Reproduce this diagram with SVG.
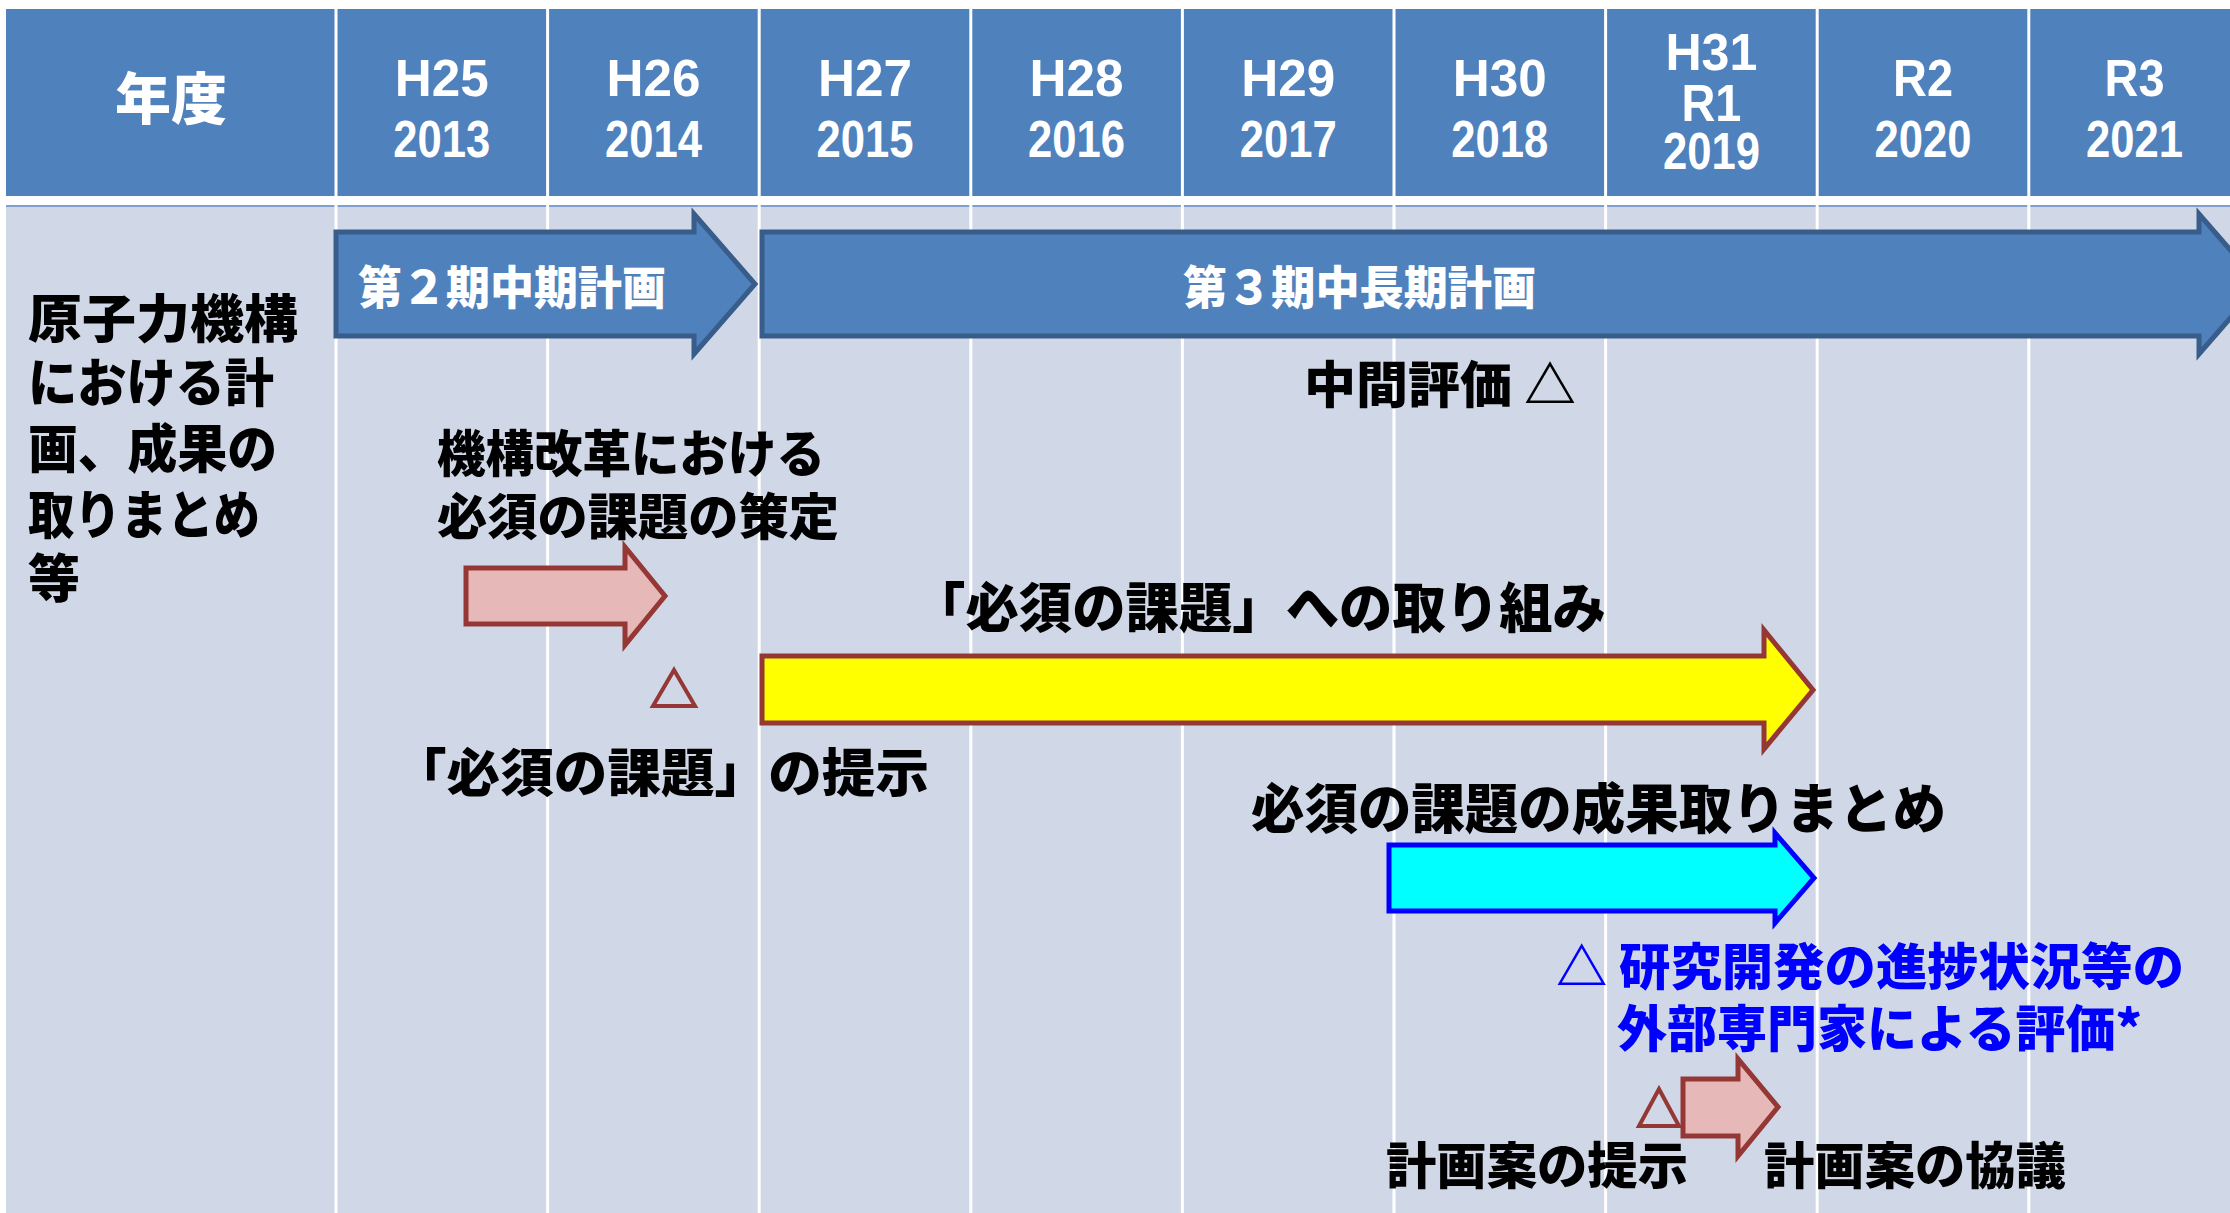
<svg xmlns="http://www.w3.org/2000/svg" width="2230" height="1213" viewBox="0 0 2230 1213">
<style>
.hdr{fill:#4F81BD}
.yr{font-family:"Liberation Sans",Arial,sans-serif;font-weight:700;font-size:52px;fill:#FFFFFF;text-anchor:middle}
.jp{font-family:"Noto Sans CJK JP","Noto Sans CJK SC",sans-serif;font-weight:900}
.blk{fill:#000000}
.wht{fill:#FFFFFF}
.blu{fill:#0000FF}
.div{stroke:#FFFFFF;stroke-width:3}
.barB{fill:#4F81BD;stroke:#385D8A;stroke-width:5;stroke-linejoin:miter}
.barP{fill:#E6B9B8;stroke:#953735;stroke-width:5}
.barY{fill:#FFFF00;stroke:#953735;stroke-width:5}
.barC{fill:#00FFFF;stroke:#0000FF;stroke-width:5}
.tri{fill:none;stroke:#953735;stroke-width:4}
</style>
<rect x="0" y="0" width="2230" height="1213" fill="#FFFFFF"/>
<g id="table">
  <rect class="hdr" x="6" y="9" width="2224" height="187"/>
  <rect x="6" y="205" width="2224" height="1008" fill="#D0D8E8"/>
  <line x1="6" y1="206" x2="2230" y2="206" stroke="#7F9FCF" stroke-width="2"/>
  <g>
    <line class="div" x1="336" y1="9" x2="336" y2="1213"/>
    <line class="div" x1="547.6" y1="9" x2="547.6" y2="1213"/>
    <line class="div" x1="759.2" y1="9" x2="759.2" y2="1213"/>
    <line class="div" x1="970.8" y1="9" x2="970.8" y2="1213"/>
    <line class="div" x1="1182.4" y1="9" x2="1182.4" y2="1213"/>
    <line class="div" x1="1394" y1="9" x2="1394" y2="1213"/>
    <line class="div" x1="1605.6" y1="9" x2="1605.6" y2="1213"/>
    <line class="div" x1="1817.2" y1="9" x2="1817.2" y2="1213"/>
    <line class="div" x1="2028.8" y1="9" x2="2028.8" y2="1213"/>
  </g>
</g>
<g id="header">
  <text class="jp wht" x="171" y="119" font-size="56" font-weight="700" text-anchor="middle">年度</text>
  <text class="yr" x="441.8" y="96" textLength="94" lengthAdjust="spacingAndGlyphs">H25</text>
  <text class="yr" x="441.8" y="157" textLength="97" lengthAdjust="spacingAndGlyphs">2013</text>
  <text class="yr" x="653.4" y="96" textLength="94" lengthAdjust="spacingAndGlyphs">H26</text>
  <text class="yr" x="653.4" y="157" textLength="97" lengthAdjust="spacingAndGlyphs">2014</text>
  <text class="yr" x="865" y="96" textLength="94" lengthAdjust="spacingAndGlyphs">H27</text>
  <text class="yr" x="865" y="157" textLength="97" lengthAdjust="spacingAndGlyphs">2015</text>
  <text class="yr" x="1076.6" y="96" textLength="94" lengthAdjust="spacingAndGlyphs">H28</text>
  <text class="yr" x="1076.6" y="157" textLength="97" lengthAdjust="spacingAndGlyphs">2016</text>
  <text class="yr" x="1288.2" y="96" textLength="94" lengthAdjust="spacingAndGlyphs">H29</text>
  <text class="yr" x="1288.2" y="157" textLength="97" lengthAdjust="spacingAndGlyphs">2017</text>
  <text class="yr" x="1499.8" y="96" textLength="94" lengthAdjust="spacingAndGlyphs">H30</text>
  <text class="yr" x="1499.8" y="157" textLength="97" lengthAdjust="spacingAndGlyphs">2018</text>
  <text class="yr" x="1711.4" y="70" textLength="92" lengthAdjust="spacingAndGlyphs">H31</text>
  <text class="yr" x="1711.4" y="121" textLength="60" lengthAdjust="spacingAndGlyphs">R1</text>
  <text class="yr" x="1711.4" y="169" textLength="97" lengthAdjust="spacingAndGlyphs">2019</text>
  <text class="yr" x="1923" y="96" textLength="60" lengthAdjust="spacingAndGlyphs">R2</text>
  <text class="yr" x="1923" y="157" textLength="97" lengthAdjust="spacingAndGlyphs">2020</text>
  <text class="yr" x="2134.6" y="96" textLength="60" lengthAdjust="spacingAndGlyphs">R3</text>
  <text class="yr" x="2134.6" y="157" textLength="97" lengthAdjust="spacingAndGlyphs">2021</text>
</g>
<g id="row-label">
  <text class="jp blk" font-size="52" x="28" y="338" textLength="270" lengthAdjust="spacingAndGlyphs">原子力機構</text>
  <text class="jp blk" font-size="52" x="28" y="402" textLength="246" lengthAdjust="spacingAndGlyphs">における計</text>
  <text class="jp blk" font-size="52" x="28" y="468" textLength="249" lengthAdjust="spacingAndGlyphs">画、成果の</text>
  <text class="jp blk" font-size="52" x="28" y="534" textLength="232" lengthAdjust="spacingAndGlyphs">取りまとめ</text>
  <text class="jp blk" font-size="52" x="28" y="598">等</text>
</g>
<g id="arrows">
  <g id="plan2">
    <path class="barB" d="M336,232 H694 V214 L755,284 L694,354 V336 H336 Z"/>
    <text class="jp wht" font-size="46" x="358" y="304" textLength="308" lengthAdjust="spacingAndGlyphs">第２期中期計画</text>
  </g>
  <g id="plan3">
    <path class="barB" d="M762,232 H2199 V214 L2260,284 L2199,354 V336 H762 Z"/>
    <text class="jp wht" font-size="46" x="1183" y="304" textLength="353" lengthAdjust="spacingAndGlyphs">第３期中長期計画</text>
  </g>
  <g id="reform">
    <path class="barP" d="M466,568 H625 V547 L665,596 L625,645 V624 H466 Z"/>
  </g>
  <g id="tackle">
    <path class="barY" d="M762,656 H1764 V630 L1813,690 L1764,749 V723 H762 Z"/>
  </g>
  <g id="summary">
    <path class="barC" d="M1389,845 H1775 V833 L1814,878 L1775,923 V911 H1389 Z"/>
  </g>
  <g id="discuss">
    <path class="barP" d="M1683,1079 H1738 V1059 L1778,1107 L1738,1156 V1136 H1683 Z"/>
  </g>
</g>
<g id="markers">
  <polygon class="tri" points="674,670 695,706 653,706"/>
  <polygon class="tri" points="1659,1089 1679,1126 1639,1126"/>
</g>
<g id="labels">
  <text id="mid-eval" class="jp blk" font-size="50" x="1304" y="403" textLength="272" lengthAdjust="spacingAndGlyphs">中間評価 △</text>
  <text class="jp blk" font-size="50" x="437" y="472" textLength="388" lengthAdjust="spacingAndGlyphs">機構改革における</text>
  <text class="jp blk" font-size="50" x="437" y="535" textLength="402" lengthAdjust="spacingAndGlyphs">必須の課題の策定</text>
  <text class="jp blk" font-size="54" x="912" y="628" textLength="694" lengthAdjust="spacingAndGlyphs">「必須の課題」への取り組み</text>
  <text class="jp blk" font-size="52" x="393" y="792" textLength="536" lengthAdjust="spacingAndGlyphs">「必須の課題」の提示</text>
  <text class="jp blk" font-size="54" x="1251" y="829" textLength="695" lengthAdjust="spacingAndGlyphs">必須の課題の成果取りまとめ</text>
  <text class="jp blu" font-size="50" x="1556" y="985" textLength="628" lengthAdjust="spacingAndGlyphs">△ 研究開発の進捗状況等の</text>
  <text class="jp blu" font-size="50" x="1617" y="1047" textLength="525" lengthAdjust="spacingAndGlyphs">外部専門家による評価*</text>
  <text class="jp blk" font-size="50" x="1386" y="1184" textLength="302" lengthAdjust="spacingAndGlyphs">計画案の提示</text>
  <text class="jp blk" font-size="50" x="1764" y="1184" textLength="302" lengthAdjust="spacingAndGlyphs">計画案の協議</text>
</g>
</svg>
